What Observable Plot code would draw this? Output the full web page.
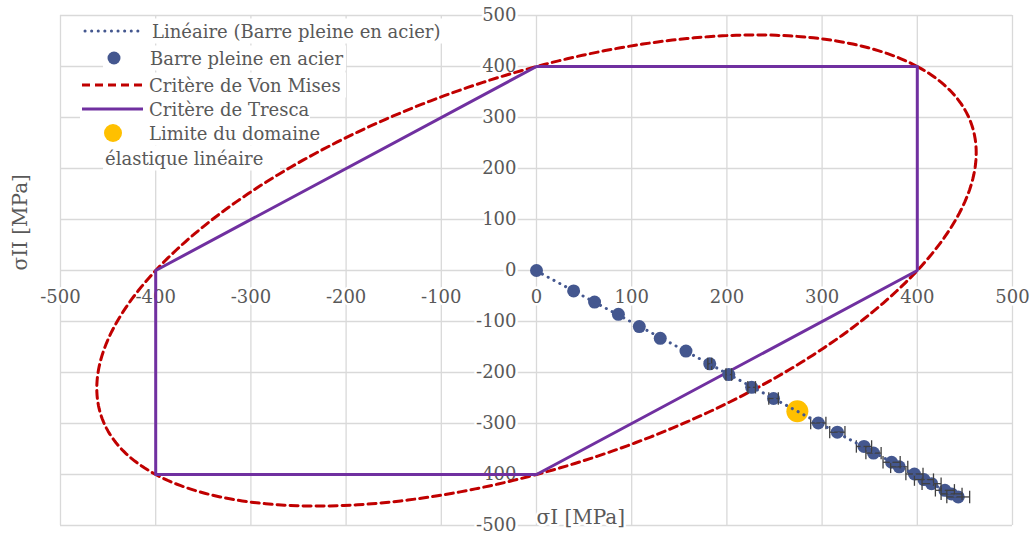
<!DOCTYPE html>
<html><head><meta charset="utf-8">
<script src="https://cdn.jsdelivr.net/npm/d3@7"></script>
<script src="https://cdn.jsdelivr.net/npm/@observablehq/plot@0.6"></script>
<style>
html,body{margin:0;padding:0;background:#fff;overflow:hidden}
#wrap{position:relative;width:1032px;height:535px}
#wrap > svg{position:absolute;left:0;top:0}
</style></head><body><div id="wrap"></div>
<script>
// Measured points (Barre pleine en acier)
const sigmaI  = [0, 39, 61, 86, 108, 130, 157, 182, 202, 226, 249, 296, 316, 344, 354, 373, 381, 397, 407, 415, 429, 436, 443];
const sigmaII = [0, -40, -62, -86, -110, -133, -158, -183, -204, -229, -251, -299, -317, -345, -358, -376, -385, -399, -410, -418, -431, -438, -444];
const errorI  = [0, 0, 0, 0, 0, 0, 0, 2, 3, 4, 5, 8, 8, 8, 8, 9, 9, 9, 10, 10, 10, 11, 12];
// Limit of linear elastic domain
const limitI = [274];
const limitII = [-276];
// Tresca hexagon
const trescaI  = [0, 400, 400, 0, -400, -400, 0];
const trescaII = [400, 400, 0, -400, -400, 0, 400];
// Von Mises yield stress
const yieldStress = 400;
// Ticks & labels
const tickValues = [-500, -400, -300, -200, -100, 0, 100, 200, 300, 400, 500];
const xTitle = "σI [MPa]";
const yTitle = "σII [MPa]";
const legendLabels = ["Linéaire (Barre pleine en acier)", "Barre pleine en acier", "Critère de Von Mises", "Critère de Tresca", "Limite du domaine", "élastique linéaire"];

const points = sigmaI.map((x, i) => ({x, y: sigmaII[i], e: errorI[i]}));
const bars = points.filter(d => d.e > 0);
const caps = bars.flatMap(d => [{x: d.x - d.e, y: d.y}, {x: d.x + d.e, y: d.y}]);
const limit = limitI.map((x, i) => ({x, y: limitII[i]}));
const tresca = trescaI.map((x, i) => ({x, y: trescaII[i]}));
// Von Mises ellipse: s1^2 - s1 s2 + s2^2 = sy^2
const ellipse = d3.range(0, 361).map(k => {
  const t = k * Math.PI / 180;
  const u = Math.SQRT2 * yieldStress * Math.cos(t);
  const v = Math.sqrt(2 / 3) * yieldStress * Math.sin(t);
  return {x: (u + v) / Math.SQRT2, y: (u - v) / Math.SQRT2};
});

const capSymbol = {draw(ctx, size) { const h = Math.sqrt(size) / 2; ctx.moveTo(0, -h); ctx.lineTo(0, h); }};
const fmt = d => String(d);
const FONT = "DejaVu Serif";
const GRAY = "#595959";
const BLUE = "#44578f";

const chart = Plot.plot({
  width: 1032, height: 535,
  marginLeft: 60, marginRight: 20, marginTop: 15, marginBottom: 10,
  x: {domain: [-500, 500], axis: null},
  y: {domain: [-500, 500], axis: null},
  style: {fontFamily: FONT, fontSize: "18px", color: GRAY, background: "white"},
  marks: [
    Plot.gridX(tickValues, {stroke: "#d9d9d9", strokeOpacity: 1, strokeWidth: 1.3}),
    Plot.gridY(tickValues, {stroke: "#d9d9d9", strokeOpacity: 1, strokeWidth: 1.3}),
    Plot.text(tickValues, {x: d => d, y: () => 0, text: fmt, dy: 27, fill: GRAY, stroke: "white", strokeWidth: 5, fontSize: 18}),
    Plot.text(tickValues, {x: () => 0, y: d => d, text: fmt, dx: -20, dy: 0, textAnchor: "end", fill: GRAY, stroke: "white", strokeWidth: 5, fontSize: 18}),
    Plot.line(ellipse, {x: "x", y: "y", stroke: "#c00000", strokeWidth: 3, strokeDasharray: "8,5"}),
    Plot.line(tresca, {x: "x", y: "y", stroke: "#7030a0", strokeWidth: 3}),
    Plot.dot(points, {x: "x", y: "y", r: 6.5, fill: BLUE}),
    Plot.link(bars, {x1: d => d.x - d.e, x2: d => d.x + d.e, y1: "y", y2: "y", stroke: "#404040", strokeWidth: 1.3}),
    Plot.dot(caps, {x: "x", y: "y", symbol: capSymbol, r: 7, stroke: "#404040", strokeWidth: 1.3, fill: "none"}),
    Plot.dot(limit, {x: "x", y: "y", r: 11, fill: "#ffc000"}),
    Plot.linearRegressionY(points, {x: "x", y: "y", ci: 0, stroke: BLUE, strokeWidth: 3, strokeDasharray: "0.1,6.5", strokeLinecap: "round"}),
    Plot.text([yTitle], {frameAnchor: "left", dx: -40, rotate: -90, fontSize: 20, fill: GRAY}),
    Plot.text([xTitle], {x: () => 0, frameAnchor: "bottom", textAnchor: "start", dx: 0, dy: -2, fontSize: 20, fill: GRAY, stroke: "white", strokeWidth: 5})
  ]
});
const wrap = document.getElementById("wrap");
wrap.appendChild(chart);

// Legend overlay
const ns = "http://www.w3.org/2000/svg";
const lg = document.createElementNS(ns, "svg");
lg.setAttribute("width", 1032); lg.setAttribute("height", 535);
lg.style.pointerEvents = "none";
function el(tag, attrs) { const e = document.createElementNS(ns, tag); for (const k in attrs) e.setAttribute(k, attrs[k]); lg.appendChild(e); return e; }
const rows = [
  {y: 31, box: [80, 446]},
  {y: 58, box: [103, 346]},
  {y: 85, box: [80, 346]},
  {y: 109, box: [80, 310]},
  {y: 133, box: [103, 318]},
  {y: 158, box: [103, 280]}
];
rows.forEach(r => el("rect", {x: r.box[0], y: r.y - 12.5, width: r.box[1] - r.box[0], height: 25, fill: "white"}));
el("line", {x1: 85, x2: 142, y1: 31, y2: 31, stroke: BLUE, "stroke-width": 3, "stroke-dasharray": "0.1,6.5", "stroke-linecap": "round"});
el("circle", {cx: 114, cy: 58, r: 6.5, fill: BLUE});
el("line", {x1: 82, x2: 143, y1: 85, y2: 85, stroke: "#c00000", "stroke-width": 3, "stroke-dasharray": "8,5"});
el("line", {x1: 82, x2: 143, y1: 109, y2: 109, stroke: "#7030a0", "stroke-width": 3});
el("circle", {cx: 113, cy: 133, r: 9, fill: "#ffc000"});
const textX = [152, 150, 149, 149, 149, 105];
legendLabels.forEach((t, i) => {
  const e = el("text", {x: textX[i], y: rows[i].y, "dominant-baseline": "central", fill: GRAY, "font-family": FONT, "font-size": 18});
  e.textContent = t;
});
wrap.appendChild(lg);
</script></body></html>
